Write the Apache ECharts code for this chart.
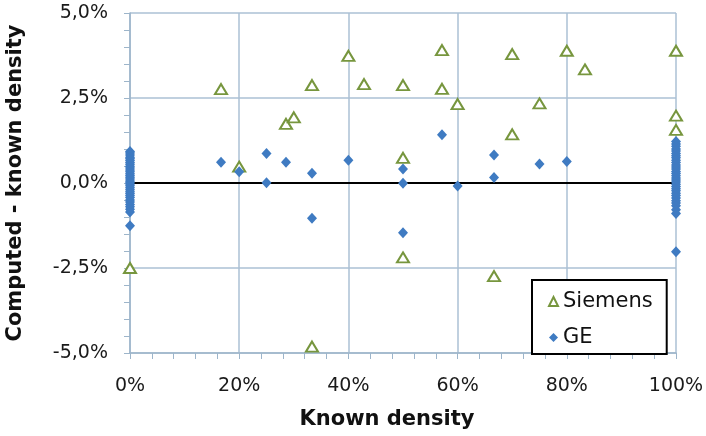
<!DOCTYPE html>
<html>
<head>
<meta charset="utf-8">
<script src="https://cdn.jsdelivr.net/npm/echarts@6/dist/echarts.min.js"></script>
<style>
html,body{margin:0;padding:0;background:#fff;}
#chart{width:706px;height:436px;}
</style>
</head>
<body>
<div id="chart"></div>
<script>
// Tick values (percent)
const xTicks = [0, 20, 40, 60, 80, 100];
const yTicks = [-5, -2.5, 0, 2.5, 5];

// Siemens: known density (%) and computed - known density (%)
const siemensX = [0, 16.67, 20, 28.57, 30, 33.33, 33.33, 40, 42.86, 50, 50, 50, 57.14, 57.14, 60, 66.67, 70, 70, 75, 80, 83.33, 100, 100, 100];
const siemensY = [-2.5, 2.76, 0.48, 1.74, 1.93, 2.88, -4.81, 3.74, 2.91, 2.88, 0.74, -2.19, 3.91, 2.77, 2.32, -2.74, 3.79, 1.43, 2.34, 3.89, 3.34, 3.89, 1.98, 1.56];

// GE: scattered points
const geX = [16.67, 20, 25, 25, 28.57, 33.33, 33.33, 40, 50, 50, 50, 57.14, 60, 66.67, 66.67, 75, 80, 100];
const geY = [0.61, 0.33, 0.87, 0.01, 0.61, 0.29, -1.04, 0.67, 0.41, -0.01, -1.46, 1.42, -0.09, 0.82, 0.16, 0.56, 0.63, -2.02];
// GE: dense columns at 0% and 100% known density
const geAt0 = [0.93, 0.88, 0.82, 0.76, 0.71, 0.66, 0.6, 0.55, 0.49, 0.44, 0.38, 0.33, 0.27, 0.22, 0.17, 0.12, 0.06, 0.02, -0.03, -0.08, -0.14, -0.2, -0.26, -0.31, -0.37, -0.43, -0.5, -0.56, -0.63, -0.7, -0.77, -0.85, -1.26];
const geAt100 = [1.22, 1.15, 1.08, 1.0, 0.94, 0.87, 0.8, 0.74, 0.67, 0.6, 0.53, 0.47, 0.41, 0.34, 0.28, 0.21, 0.15, 0.09, 0.03, -0.04, -0.1, -0.17, -0.23, -0.3, -0.37, -0.44, -0.52, -0.59, -0.67, -0.79, -0.9];

const siemensData = siemensX.map((x, i) => [x, siemensY[i]]);
const geData = geX.map((x, i) => [x, geY[i]])
  .concat(geAt0.map(v => [0, v]))
  .concat(geAt100.map(v => [100, v]));

const FONT = 'DejaVu Sans';
const gridColor = '#abc1d4';
const axisColor = '#9db5ca';
const green = '#77963e';
const blue = '#3f7bc2';

const chart = echarts.init(document.getElementById('chart'), null, {renderer: 'canvas'});
chart.setOption({
  animation: false,
  backgroundColor: '#ffffff',
  textStyle: {fontFamily: FONT},
  grid: {left: 130, right: 30, top: 13, bottom: 83, containLabel: false, outerBoundsMode: 'none'},
  legend: {
    left: 532, top: 280,
    orient: 'vertical',
    padding: [11, 14, 6, 16],
    itemGap: 15,
    itemWidth: 9, itemHeight: 9,
    borderColor: '#000', borderWidth: 2,
    backgroundColor: '#fff',
    textStyle: {fontFamily: FONT, fontSize: 21, color: '#111'},
    data: [
      {name: 'Siemens', icon: 'triangle'},
      {name: 'GE', icon: 'diamond'}
    ]
  },
  xAxis: [{
    type: 'value',
    min: xTicks[0], max: xTicks[xTicks.length - 1], interval: 20,
    name: 'Known density',
    nameLocation: 'middle',
    nameGap: 56,
    nameMoveOverlap: false,
    nameTextStyle: {fontFamily: FONT, fontSize: 21, fontWeight: 'bold', color: '#111', padding: [0, 32, 0, 0]},
    axisLine: {onZero: false, lineStyle: {color: axisColor, width: 1.5}},
    axisTick: {show: true, length: 6, lineStyle: {color: axisColor}},
    minorTick: {show: true, splitNumber: 5, length: 6, lineStyle: {color: axisColor}},
    axisLabel: {margin: 24, fontFamily: FONT, fontSize: 19, color: '#1a1a1a', formatter: v => v + '%'},
    splitLine: {show: true, lineStyle: {color: gridColor, width: 1.5}}
  }, {
    type: 'value',
    min: xTicks[0], max: xTicks[xTicks.length - 1],
    position: 'top',
    axisLine: {onZero: true, lineStyle: {color: '#000', width: 2}},
    axisTick: {show: false},
    axisLabel: {show: false},
    splitLine: {show: false}
  }],
  yAxis: {
    type: 'value',
    min: yTicks[0], max: yTicks[yTicks.length - 1], interval: 2.5,
    name: 'Computed - known density',
    nameLocation: 'middle',
    nameRotate: 90,
    nameGap: 104,
    nameMoveOverlap: false,
    nameTextStyle: {fontFamily: FONT, fontSize: 21, fontWeight: 'bold', color: '#111'},
    axisLine: {show: true, lineStyle: {color: axisColor, width: 1.5}},
    axisTick: {show: true, length: 6, lineStyle: {color: axisColor}},
    minorTick: {show: true, splitNumber: 5, length: 6, lineStyle: {color: axisColor}},
    axisLabel: {margin: 22, fontFamily: FONT, fontSize: 19, color: '#1a1a1a',
      formatter: v => v.toFixed(1).replace('.', ',') + '%'},
    splitLine: {show: true, lineStyle: {color: gridColor, width: 1.5}}
  },
  series: [{
    name: 'Siemens',
    type: 'scatter',
    symbol: 'triangle',
    symbolSize: [12, 10],
    itemStyle: {color: '#ffffff', borderColor: green, borderWidth: 2, opacity: 1},
    data: siemensData,
    z: 3
  }, {
    name: 'GE',
    type: 'scatter',
    symbol: 'diamond',
    symbolSize: [10, 11],
    itemStyle: {color: blue, opacity: 1},
    data: geData,
    z: 4
  }]
});
</script>
</body>
</html>
